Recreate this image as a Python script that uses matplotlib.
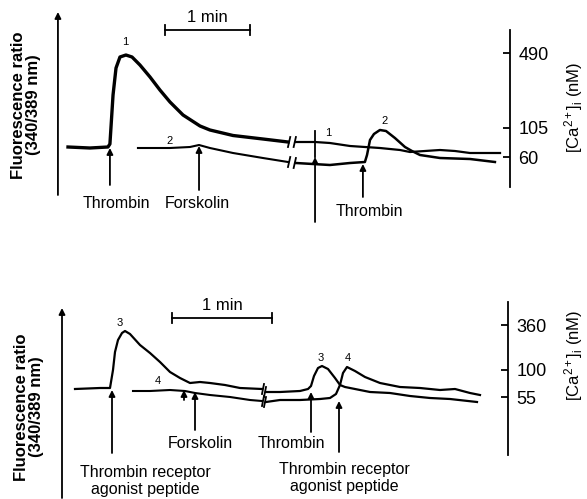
import matplotlib
matplotlib.use('Agg')
import matplotlib.pyplot as plt

plt.rcParams['font.family'] = ['Liberation Sans', 'DejaVu Sans']
plt.rcParams['mathtext.fontset'] = 'custom'
plt.rcParams['mathtext.rm'] = 'Liberation Sans'
plt.rcParams['mathtext.it'] = 'Liberation Sans:italic'

# ---- upper panel: time (s), fluorescence ratio (arbitrary units) ----
t1a = [0, 15.5, 28.2, 29.6, 31.8, 33.9, 36.7, 40.9, 45.2, 50.8, 57.9, 64.9, 72.0,
       81.2, 93.2, 100.2, 116.5, 137.6, 155.3]
r1a = [1.06, 1.04, 1.06, 1.12, 2.10, 2.64, 2.86, 2.90, 2.86, 2.70, 2.46, 2.20, 1.96,
       1.70, 1.48, 1.40, 1.29, 1.22, 1.16]
t2a = [49.4, 72.0, 86.1, 92.5, 100.2, 116.5, 137.6, 155.3]
r2a = [1.04, 1.04, 1.06, 1.10, 1.04, 0.94, 0.84, 0.76]
t1b = [160.9, 174.4, 184.9, 199.1, 209.6, 220.2, 234.4, 241.4, 252.0, 262.6, 273.2,
       283.8, 305.0]
r1b = [1.16, 1.16, 1.14, 1.08, 1.06, 1.04, 1.00, 0.96, 0.98, 1.00, 0.98, 0.94, 0.94]
t2b = [160.9, 184.9, 199.1, 209.6, 211.1, 213.2, 216.0, 220.2, 224.5, 230.8, 237.9,
       242.8, 248.5, 262.6, 283.8, 301.4]
r2b = [0.74, 0.70, 0.74, 0.76, 0.90, 1.20, 1.32, 1.40, 1.38, 1.24, 1.06, 0.98, 0.90,
       0.84, 0.82, 0.76]
ca_top_labels = ['490', '105', '60']
ca_top_pos = [2.94, 1.44, 0.86]

# ---- lower panel ----
t3a = [0, 15, 21, 22.8, 24, 25.8, 28.2, 30, 33, 39, 45, 51, 57, 63, 69, 75, 81, 90, 99, 112.2]
r3a = [1.22, 1.24, 1.24, 1.60, 1.96, 2.20, 2.34, 2.38, 2.32, 2.10, 1.94, 1.76, 1.56,
       1.44, 1.34, 1.36, 1.34, 1.30, 1.24, 1.22]
t4a = [34.8, 45, 57, 66, 72, 81, 93, 105, 112.2]
r4a = [1.18, 1.18, 1.20, 1.18, 1.14, 1.10, 1.06, 1.00, 0.98]
t3b = [114.6, 123, 135, 139.8, 141.6, 143.4, 145.8, 148.2, 151.8, 156, 159, 162, 168,
       177, 189, 201, 213, 225, 241.2]
r3b = [1.16, 1.16, 1.18, 1.22, 1.28, 1.48, 1.64, 1.68, 1.62, 1.44, 1.30, 1.26, 1.22,
       1.16, 1.14, 1.08, 1.04, 1.02, 0.96]
t4b = [114.6, 123, 135, 147, 153, 156.6, 159, 160.8, 163.2, 168, 174, 183, 195, 207,
       219, 228, 237, 243]
r4b = [0.96, 1.00, 1.00, 1.02, 1.04, 1.12, 1.30, 1.54, 1.66, 1.58, 1.46, 1.34, 1.26,
       1.24, 1.20, 1.22, 1.14, 1.10]
ca_bot_labels = ['360', '100', '55']
ca_bot_pos = [2.50, 1.60, 1.06]

ylab_left = 'Fluorescence ratio\n(340/389 nm)'
ylab_right = r'[Ca$^{2+}$]$_{\mathrm{i}}$ (nM)'

fig = plt.figure(figsize=(5.87, 4.99), dpi=100)
ax_t = fig.add_axes([0, 249 / 499, 1, 250 / 499])
ax_b = fig.add_axes([0, 0, 1, 249 / 499])
ax_t.set_xlim(-48.0, 366.4)
ax_t.set_ylim(-1.0, 4.0)
ax_b.set_xlim(-45.0, 307.2)
ax_b.set_ylim(-0.98, 4.0)

arrow_kw = dict(arrowstyle='-|>', color='black', lw=1.3, mutation_scale=9,
                shrinkA=0, shrinkB=0)


def break_mark(ax, t, r, dt, dr):
    ax.plot([t - dt, t + dt], [r - dr, r + dr], color='black', lw=1.3)


def setup(ax, t_axis, r_lo, r_hi, pos, labels, t_arrow, a_lo, a_hi, lab_x, lab_y, rlab_y):
    for s in ['top', 'left', 'bottom']:
        ax.spines[s].set_visible(False)
    ax.set_xticks([])
    ax.spines['right'].set_position(('data', t_axis))
    ax.spines['right'].set_bounds(r_lo, r_hi)
    ax.spines['right'].set_linewidth(1.3)
    ax.yaxis.tick_right()
    ax.set_yticks(pos, labels)
    ax.tick_params(axis='y', direction='in', length=5, width=1.3, labelsize=13, pad=6)
    ax.set_ylabel(ylab_right, fontsize=12, va='center', ha='center')
    ax.yaxis.set_label_position('right')
    ax.yaxis.set_label_coords(0.958, rlab_y)
    ax.annotate('', xy=(t_arrow, a_hi), xytext=(t_arrow, a_lo), arrowprops=arrow_kw)
    ax.text(lab_x, lab_y, ylab_left, transform=ax.transAxes, rotation=90,
            ha='center', va='center', fontsize=12, fontweight='bold', linespacing=1.0)


def scale_bar(ax, t0, r, h, tx, ty):
    ax.plot([t0, t0 + 60], [r, r], color='black', lw=1.3)
    ax.plot([t0, t0], [r - h, r + h], color='black', lw=1.3)
    ax.plot([t0 + 60, t0 + 60], [r - h, r + h], color='black', lw=1.3)
    ax.text(t0 + 30, ty, '1 min', ha='center', va='center', fontsize=12)


# ---- upper panel ----
ax = ax_t
setup(ax, 312.0, 0.26, 3.4, ca_top_pos, ca_top_labels, -7.1, 0.1, 3.76, 0.044, 0.58, 0.57)
scale_bar(ax, 68.5, 3.4, 0.1, 98.5, 3.64)
ax.plot(t1a, r1a, color='black', lw=2.4)
ax.plot(t2a, r2a, color='black', lw=1.5)
ax.plot(t1b, r1b, color='black', lw=1.6)
ax.plot(t2b, r2b, color='black', lw=1.8)
for ta, ra, tb, rb in [(t1a, r1a, t1b, r1b), (t2a, r2a, t2b, r2b)]:
    break_mark(ax, ta[-1] + 0.8, ra[-1], 0.8, 0.1)
    break_mark(ax, tb[0] - 0.8, rb[0], 0.8, 0.1)
ax.annotate('', xy=(29.6, 1.04), xytext=(29.6, 0.3), arrowprops=arrow_kw)
ax.annotate('', xy=(92.5, 1.08), xytext=(92.5, 0.2), arrowprops=arrow_kw)
ax.plot([174.4, 174.4], [0.86, 1.38], color='black', lw=1.3)
ax.annotate('', xy=(174.4, 0.86), xytext=(174.4, -0.44), arrowprops=arrow_kw)
ax.annotate('', xy=(208.2, 0.72), xytext=(208.2, 0.06), arrowprops=arrow_kw)
ax.text(34.5, -0.06, 'Thrombin', ha='center', va='center', fontsize=11.5)
ax.text(91.0, -0.06, 'Forskolin', ha='center', va='center', fontsize=11.5)
ax.text(212.5, -0.24, 'Thrombin', ha='center', va='center', fontsize=11.5)
ax.text(40.2, 3.16, '1', ha='center', va='center', fontsize=8)
ax.text(72.0, 1.18, '2', ha='center', va='center', fontsize=8)
ax.text(183.5, 1.34, '1', ha='center', va='center', fontsize=8)
ax.text(223.8, 1.58, '2', ha='center', va='center', fontsize=8)

# ---- lower panel ----
ax = ax_b
setup(ax, 259.8, -0.1, 2.96, ca_bot_pos, ca_bot_labels, -7.8, -0.96, 2.84, 0.05, 0.37, 0.578)
scale_bar(ax, 58.2, 2.64, 0.1, 88.2, 2.9)
ax.plot(t3a, r3a, color='black', lw=1.6)
ax.plot(t4a, r4a, color='black', lw=1.5)
ax.plot(t3b, r3b, color='black', lw=1.6)
ax.plot(t4b, r4b, color='black', lw=1.6)
for ta, ra, tb, rb in [(t3a, r3a, t3b, r3b), (t4a, r4a, t4b, r4b)]:
    break_mark(ax, ta[-1] + 0.6, ra[-1], 0.6, 0.1)
    break_mark(ax, tb[0] - 0.6, rb[0], 0.6, 0.1)
ax.annotate('', xy=(22.2, 1.20), xytext=(22.2, -0.06), arrowprops=arrow_kw)
ax.annotate('', xy=(65.4, 1.20), xytext=(65.4, 1.00), arrowprops=arrow_kw)
ax.annotate('', xy=(72.0, 1.16), xytext=(72.0, 0.40), arrowprops=arrow_kw)
ax.annotate('', xy=(141.6, 1.16), xytext=(141.6, 0.36), arrowprops=arrow_kw)
ax.annotate('', xy=(158.4, 0.98), xytext=(158.4, -0.04), arrowprops=arrow_kw)
ax.text(42.0, -0.62, 'Thrombin receptor\nagonist peptide', ha='center', va='center',
        fontsize=11.5, linespacing=1.2)
ax.text(75.0, 0.14, 'Forskolin', ha='center', va='center', fontsize=11.5)
ax.text(129.6, 0.14, 'Thrombin', ha='center', va='center', fontsize=11.5)
ax.text(161.4, -0.56, 'Thrombin receptor\nagonist peptide', ha='center', va='center',
        fontsize=11.5, linespacing=1.2)
ax.text(27.0, 2.54, '3', ha='center', va='center', fontsize=8)
ax.text(49.8, 1.38, '4', ha='center', va='center', fontsize=8)
ax.text(147.6, 1.84, '3', ha='center', va='center', fontsize=8)
ax.text(163.8, 1.84, '4', ha='center', va='center', fontsize=8)

fig.savefig('out.png', dpi=100)
